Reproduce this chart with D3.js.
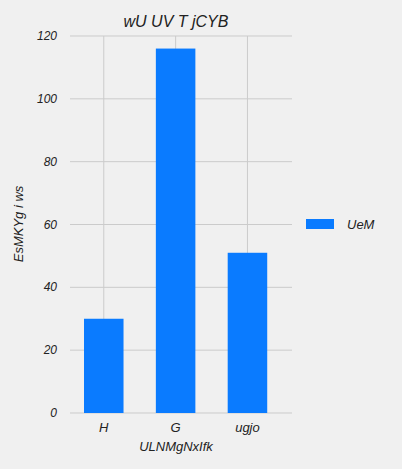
<!DOCTYPE html><html><head><script src="https://cdn.jsdelivr.net/npm/d3@7"></script>
<style>body{margin:0;background:#f0f0f0}text{font-family:"Liberation Sans",Arial,sans-serif;font-style:italic;fill:#222}</style></head><body>
<script>
const categories=["H","G","ugjo"];
const values=[30,116,51];
const yTicks=[0,20,40,60,80,100,120];
const svg=d3.select("body").append("svg").attr("width",402).attr("height",469);
const x=d3.scaleLinear().domain([-0.47,2.62]).range([70,292]);
const y=d3.scaleLinear().domain([0,120]).range([413,36]);
const g=svg.append("g");
yTicks.forEach(t=>{g.append("line").attr("x1",70).attr("x2",292).attr("y1",y(t)).attr("y2",y(t)).attr("stroke","#cbcbcb");
g.append("text").attr("x",57).attr("y",y(t)+4).attr("text-anchor","end").attr("font-size",12).text(t);});
categories.forEach((c,i)=>{g.append("line").attr("x1",x(i)).attr("x2",x(i)).attr("y1",36).attr("y2",413).attr("stroke","#cbcbcb");
g.append("text").attr("x",x(i)).attr("y",432).attr("text-anchor","middle").attr("font-size",13).text(c);});
g.selectAll("rect.b").data(values).join("rect").attr("x",(d,i)=>x(i-0.275)).attr("width",x(0.275)-x(-0.275))
 .attr("y",d=>y(d)).attr("height",d=>413-y(d)).attr("fill","#0a7bff");
svg.append("text").attr("x",176).attr("y",27).attr("text-anchor","middle").attr("font-size",16).text("wU UV T jCYB");
svg.append("text").attr("x",176).attr("y",451).attr("text-anchor","middle").attr("font-size",13).text("ULNMgNxIfk");
svg.append("text").attr("transform","translate(23,224) rotate(-90)").attr("text-anchor","middle").attr("font-size",13).text("EsMKYg i ws");
svg.append("rect").attr("x",306).attr("y",219).attr("width",28).attr("height",10).attr("fill","#0a7bff");
svg.append("text").attr("x",347).attr("y",229).attr("font-size",13).text("UeM");
</script></body></html>
